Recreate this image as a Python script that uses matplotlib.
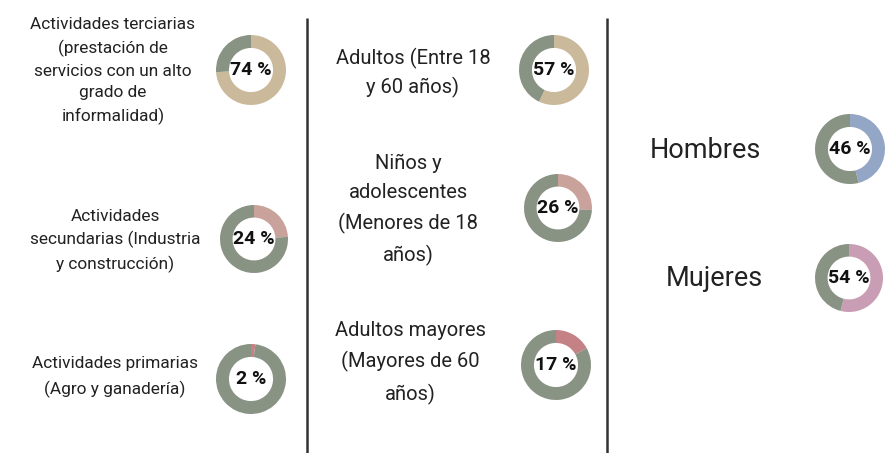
import matplotlib
matplotlib.use("Agg")
import matplotlib.pyplot as plt

plt.rcParams['font.family'] = ['Roboto', 'DejaVu Sans']

# Data
percents = [74, 24, 2, 57, 26, 17, 46, 54]
pct_labels = ["74 %", "24 %", "2 %", "57 %", "26 %", "17 %", "46 %", "54 %"]
categories = [
    "Actividades terciarias\n(prestación de\nservicios con un alto\ngrado de\ninformalidad)",
    "Actividades\nsecundarias (Industria\ny construcción)",
    "Actividades primarias\n(Agro y ganadería)",
    "Adultos (Entre 18\ny 60 años)",
    "Niños y\nadolescentes\n(Menores de 18\naños)",
    "Adultos mayores\n(Mayores de 60\naños)",
    "Hombres",
    "Mujeres",
]
highlight_colors = ["#cbb99b", "#c9a29b", "#c87f84", "#cbb99b", "#c9a29b", "#c58286", "#93a6c6", "#c99db3"]
base_color = "#899384"

# Layout (pixel positions, image coords)
donut_xy = [(251, 70), (254, 239), (251, 379), (554, 70), (558, 208), (556, 365), (850, 149), (849, 278)]
donut_r = [35, 34, 35, 35, 34, 35, 35, 34]
label_xy = [(113, 71), (115, 241), (115, 377), (413, 73), (408, 210), (410, 363), (705, 150), (714, 278)]
label_size = [12.4, 12.4, 12.4, 14.5, 14.5, 14.5, 19.5, 19.5]
label_ls = [1.57, 1.56, 1.7, 1.5, 1.66, 1.71, 1.2, 1.2]

W, H = 893, 453
fig = plt.figure(figsize=(W / 100, H / 100), dpi=100)
ax = fig.add_axes([0, 0, 1, 1])
ax.set_xlim(0, W)
ax.set_ylim(0, H)
ax.set_aspect('equal')
ax.axis('off')

for p, lab, col, (cx, cy), r in zip(percents, pct_labels, highlight_colors, donut_xy, donut_r):
    ax.pie([p, 100 - p], colors=[col, base_color], startangle=90, counterclock=False,
           center=(cx, H - cy), radius=r, wedgeprops=dict(width=r * 0.37, linewidth=0),
           frame=True)
    ax.text(cx, H - cy, lab, ha='center', va='center', fontsize=14,
            fontweight='bold', color='#111111')

for txt, (x, y), fs, ls in zip(categories, label_xy, label_size, label_ls):
    ax.text(x, H - y, txt, ha='center', va='center', fontsize=fs, color='#222222',
            linespacing=ls, multialignment='center')

# Dividers
for x in (307, 607):
    ax.plot([x, x], [0, H - 18], color='#333333', lw=1.8, solid_capstyle='butt')

ax.set_xlim(0, W)
ax.set_ylim(0, H)
ax.axis('off')
fig.savefig("out.png", dpi=100, facecolor='white')
